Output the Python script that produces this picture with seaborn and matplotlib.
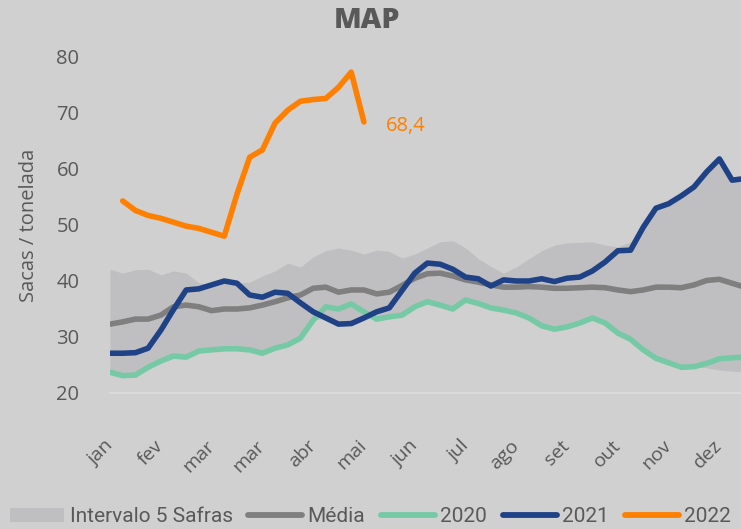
import numpy as np
import pandas as pd
import matplotlib
matplotlib.use("Agg")
import matplotlib.pyplot as plt
import seaborn as sns
from matplotlib.patches import Patch
from matplotlib.lines import Line2D

# ---------------- data ----------------
weeks = list(range(51))
tick_pos = list(range(0, 49, 4))
tick_labels = ["jan", "fev", "mar", "mar", "abr", "mai", "jun", "jul", "ago", "set", "out", "nov", "dez"]

band_high = [42.1, 41.4, 42.0, 42.1, 41.1, 41.8, 41.4, 39.7, 39.3, 39.9,
             39.7, 39.8, 40.9, 41.8, 43.2, 42.5, 44.3, 45.4, 45.9, 45.5,
             44.8, 45.5, 45.3, 44.1, 44.8, 45.9, 47.0, 47.2, 45.9, 44.0,
             42.6, 41.4, 42.5, 44.0, 45.4, 46.4, 46.8, 46.9, 47.0, 46.4,
             46.1, 47.0, 49.6, 53.0, 53.8, 55.2, 56.8, 59.5, 61.8, 58.0, 58.3]
band_low = [23.7, 23.1, 23.2, 24.6, 25.7, 26.6, 26.4, 27.5, 27.7, 27.9,
            27.9, 27.7, 27.1, 28.0, 28.6, 29.8, 33.0, 33.4, 32.3, 32.4,
            33.4, 33.2, 33.6, 33.9, 35.4, 36.3, 35.7, 35.0, 36.6, 36.0,
            35.2, 34.8, 34.3, 33.4, 32.0, 31.4, 31.8, 32.5, 33.4, 32.5,
            30.7, 29.6, 27.7, 26.2, 25.4, 24.6, 24.7, 24.5, 24.1, 23.9, 23.8]
media = [32.3, 32.7, 33.2, 33.2, 33.9, 35.4, 35.7, 35.4, 34.7, 35.0,
         35.0, 35.2, 35.7, 36.3, 37.0, 37.5, 38.7, 38.9, 38.0, 38.4,
         38.4, 37.7, 38.0, 39.2, 40.5, 41.3, 41.4, 40.9, 40.2, 39.8,
         39.3, 38.9, 38.9, 39.0, 38.9, 38.7, 38.7, 38.8, 38.9, 38.8,
         38.4, 38.1, 38.4, 38.9, 38.9, 38.8, 39.3, 40.1, 40.3, 39.6, 38.9]
y2020 = [23.7, 23.1, 23.2, 24.6, 25.7, 26.6, 26.4, 27.5, 27.7, 27.9,
         27.9, 27.7, 27.1, 28.0, 28.6, 29.8, 33.0, 35.4, 35.0, 35.9,
         34.5, 33.2, 33.6, 33.9, 35.4, 36.3, 35.7, 35.0, 36.6, 36.0,
         35.2, 34.8, 34.3, 33.4, 32.0, 31.4, 31.8, 32.5, 33.4, 32.5,
         30.7, 29.6, 27.7, 26.2, 25.4, 24.6, 24.7, 25.3, 26.1, 26.3, 26.4]
y2021 = [27.1, 27.1, 27.2, 28.0, 31.2, 34.9, 38.4, 38.6, 39.3, 40.0,
         39.6, 37.5, 37.1, 38.0, 37.8, 36.1, 34.5, 33.4, 32.3, 32.4,
         33.4, 34.5, 35.2, 38.3, 41.4, 43.2, 43.0, 42.1, 40.7, 40.4,
         39.1, 40.2, 40.0, 40.0, 40.4, 39.9, 40.5, 40.7, 41.8, 43.4,
         45.4, 45.5, 49.6, 53.0, 53.8, 55.2, 56.8, 59.5, 61.8, 58.0, 58.3]
weeks_2022 = list(range(1, 21))
y2022 = [54.3, 52.6, 51.7, 51.2, 50.5, 49.8, 49.4, 48.7, 48.0, 55.5,
         62.1, 63.4, 68.2, 70.5, 72.1, 72.4, 72.6, 74.6, 77.3, 68.4]
last_label = "68,4"

series_names = ["Média", "2020", "2021", "2022"]
colors = {"Média": "#7F7F7F", "2020": "#76C9A5", "2021": "#1F4287", "2022": "#FF7F00"}
BG = "#D0D0D0"
BAND = "#BFBFC1"
TXT = "#595959"

rows = []
for name, vals, xs in [("Média", media, weeks), ("2020", y2020, weeks),
                       ("2021", y2021, weeks), ("2022", y2022, weeks_2022)]:
    for x, v in zip(xs, vals):
        rows.append({"semana": x, "valor": v, "serie": name})
df = pd.DataFrame(rows)

# ---------------- plot ----------------
sns.set_theme(style="white")
plt.rcParams["font.family"] = ["Open Sans", "DejaVu Sans"]

fig = plt.figure(figsize=(7.41, 5.29), dpi=100, facecolor=BG)
ax = fig.add_axes([110 / 741, 1 - 393 / 529, 1 - 110 / 741, (393 - 57) / 529])
ax.set_facecolor(BG)

ax.fill_between(weeks, band_low, band_high, color=BAND, lw=0, zorder=1)
sns.lineplot(data=df, x="semana", y="valor", hue="serie", hue_order=series_names,
             palette=colors, linewidth=4, legend=False, ax=ax, sort=False,
             solid_capstyle="round", solid_joinstyle="round", zorder=3)

ax.annotate(last_label, xy=(weeks_2022[-1], y2022[-1]), xytext=(16, -3),
            textcoords="offset points", color=colors["2022"], fontsize=14.5,
            ha="left", va="center")

ax.set_xlim(0, 49.7)
ax.set_ylim(20, 80)
ax.set_yticks([20, 30, 40, 50, 60, 70, 80])
ax.set_xticks(tick_pos)
ax.set_xticklabels(tick_labels, rotation=45, ha="right", va="center", rotation_mode="anchor")
ax.tick_params(axis="x", length=0, pad=36, labelsize=14, colors=TXT)
ax.tick_params(axis="y", length=0, pad=22, labelsize=14.5, colors=TXT)
ax.set_xlabel("")
ax.set_ylabel("Sacas / tonelada", fontsize=14.5, color=TXT)
ax.yaxis.set_label_coords(-0.112, 0.5)

for s in ["left", "right", "top"]:
    ax.spines[s].set_visible(False)
ax.spines["bottom"].set_color("#DADADA")
ax.spines["bottom"].set_linewidth(1.5)
ax.grid(False)

fig.text(367 / 741, 1 - 21 / 529, "MAP", ha="center", va="center",
         fontsize=20.5, fontweight="heavy", color=TXT)

handles = [Patch(facecolor=BAND, edgecolor="none")] + \
          [Line2D([0], [0], color=colors[n], lw=4.2, solid_capstyle="round") for n in series_names]
labels = ["Intervalo 5 Safras"] + series_names
fig.legend(handles, labels, loc="lower center", bbox_to_anchor=(0.5, -0.03), ncol=5,
           frameon=False, handlelength=2.6, handletextpad=0.25,
           columnspacing=0.75, labelcolor=TXT,
           prop={"family": ["Roboto", "DejaVu Sans"], "size": 15})

fig.savefig("out.png", dpi=100, facecolor=BG)
